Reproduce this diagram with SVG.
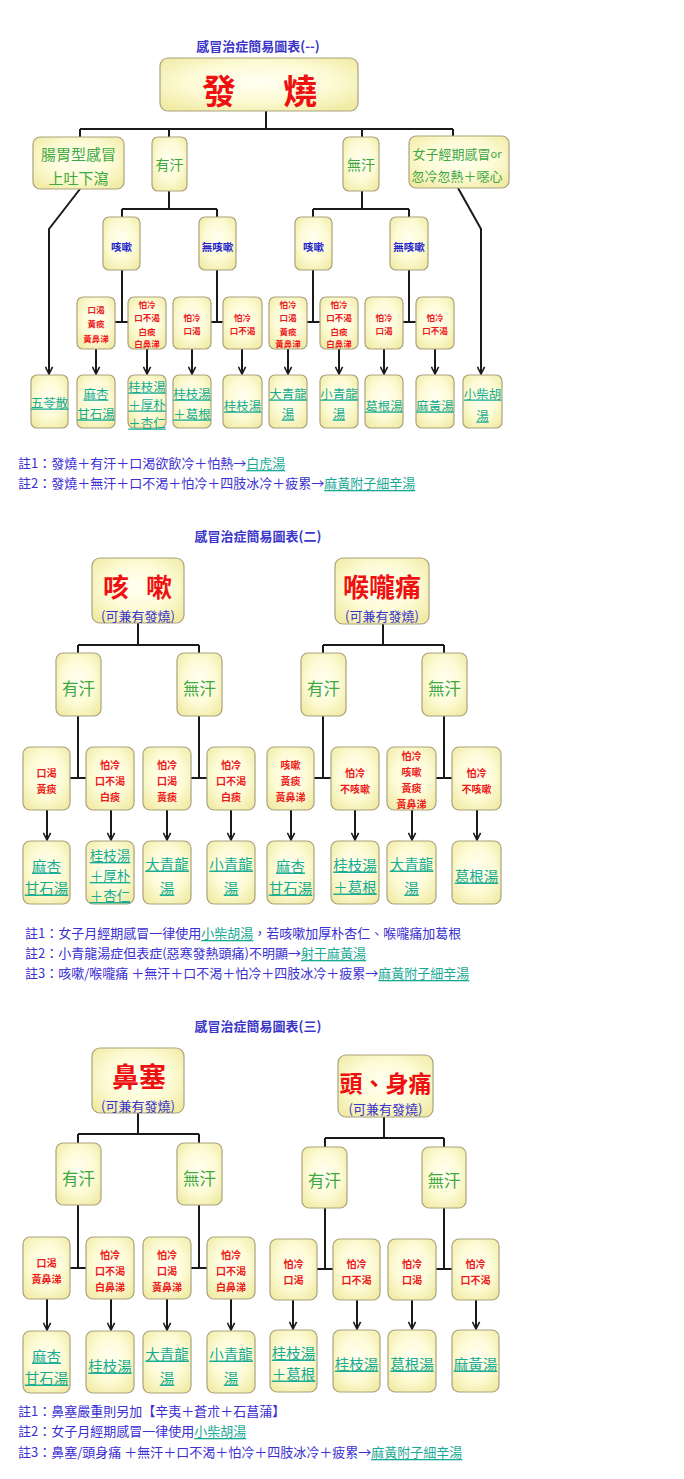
<svg xmlns="http://www.w3.org/2000/svg" width="684" height="1479" viewBox="0 0 684 1479">
<defs>
<radialGradient id="g" cx="50%" cy="45%" r="65%">
<stop offset="0" stop-color="#fffff2"/>
<stop offset="0.55" stop-color="#fdfbd6"/>
<stop offset="1" stop-color="#f1eba6"/>
</radialGradient>
<marker id="arr" viewBox="0 0 10 10" refX="9" refY="5" markerWidth="9" markerHeight="9" markerUnits="userSpaceOnUse" orient="auto">
<path d="M1,1 L9,5 L1,9" fill="none" stroke="#1a1a1a" stroke-width="1.8"/>
</marker>
<style>
.box{fill:url(#g);stroke:#aaa27e;stroke-width:1.2}
text{font-family:'Noto Sans CJK TC','Noto Sans CJK SC',sans-serif;text-anchor:middle;dominant-baseline:central}
.title{font-size:13px;fill:#3a35c8;font-weight:bold}
.big{fill:#ee1111;font-weight:bold}
.sub{fill:#3a35c8;font-size:13px}
.grn{fill:#3fa83f}
.blu{fill:#2323cc;font-weight:bold;font-size:10.5px}
.red{fill:#ee1a1a;font-weight:bold}
.r1{font-size:8.5px}
.r2{font-size:10px}
.med{fill:#17ab93;text-decoration:underline}
.m1{font-size:12.5px}
.m2{font-size:14.5px}
.m3{font-size:13.5px}
.note{font-size:13px;fill:#3b2fd2;text-anchor:start}
.lnk{fill:#1aa994;text-decoration:underline}
.c{fill:none;stroke:#1a1a1a;stroke-width:2}
.a{fill:none;stroke:#1a1a1a;stroke-width:2;marker-end:url(#arr)}
</style>
</defs>
<rect width="684" height="1479" fill="#ffffff"/>

<!-- ========== Section 1 ========== -->
<text class="title" x="258" y="45">感冒治症簡易圖表(--)</text>

<g id="connectors1">
<path class="c" d="M266,111 V129 M80,129 H453 M80,129 V137 M169,129 V137 M362,129 V137 M453,129 V136"/>
<path class="c" d="M169,191 V209 M122,209 H217 M122,209 V217 M217,209 V217"/>
<path class="c" d="M362,191 V209 M313,209 H409 M313,209 V217 M409,209 V217"/>
<path class="c" d="M122,270 V322 M115,322 H128 M217,270 V322 M211,322 H223 M313,270 V322 M307,322 H320 M409,270 V322 M403,322 H416"/>
<path class="a" d="M80,189 L49,229 V374"/>
<path class="a" d="M458,188 L481,229 V374"/>
<path class="a" d="M96,349 V374"/>
<path class="a" d="M147,349 V374"/>
<path class="a" d="M192,349 V374"/>
<path class="a" d="M242,349 V374"/>
<path class="a" d="M288,349 V374"/>
<path class="a" d="M339,349 V374"/>
<path class="a" d="M384,349 V374"/>
<path class="a" d="M435,349 V374"/>
</g>

<g id="s1-fever"><rect class="box" x="160" y="58" width="198" height="53" rx="8"/>
<text class="big" y="89" font-size="34"><tspan x="219">發</tspan><tspan x="300">燒</tspan></text></g>

<g id="s1-gut"><rect class="box" x="33" y="137" width="91" height="52" rx="7"/>
<text class="grn" x="78.5" y="153" font-size="15">腸胃型感冒</text><text class="grn" x="78.5" y="177" font-size="15">上吐下瀉</text></g>
<g id="s1-sweat"><rect class="box" x="152" y="137" width="35" height="54" rx="6"/>
<text class="grn" x="169.5" y="164" font-size="14">有汗</text></g>
<g id="s1-nosweat"><rect class="box" x="343" y="137" width="36" height="54" rx="6"/>
<text class="grn" x="361" y="164" font-size="14">無汗</text></g>
<g id="s1-female"><rect class="box" x="409" y="136" width="100" height="52" rx="7"/>
<text class="grn" x="457" y="153" font-size="13">女子經期感冒<tspan font-size="11">or</tspan></text><text class="grn" x="457" y="175" font-size="13">忽冷忽熱＋噁心</text></g>

<g id="s1-cough1"><rect class="box" x="103" y="217" width="37" height="53" rx="6"/><text class="blu" x="121.5" y="246">咳嗽</text></g>
<g id="s1-nocough1"><rect class="box" x="199" y="217" width="37" height="53" rx="6"/><text class="blu" x="217.5" y="246">無咳嗽</text></g>
<g id="s1-cough2"><rect class="box" x="295" y="217" width="37" height="53" rx="6"/><text class="blu" x="313.5" y="246">咳嗽</text></g>
<g id="s1-nocough2"><rect class="box" x="390" y="217" width="38" height="53" rx="6"/><text class="blu" x="409" y="246">無咳嗽</text></g>

<g id="s1-c1"><rect class="box" x="77" y="297" width="38" height="52" rx="6"/>
<text class="red r1" x="96" y="309">口渴</text><text class="red r1" x="96" y="323">黃痰</text><text class="red r1" x="96" y="338">黃鼻涕</text></g>
<g id="s1-c2"><rect class="box" x="128" y="297" width="38" height="52" rx="6"/>
<text class="red r1" x="147" y="304">怕冷</text><text class="red r1" x="147" y="317">口不渴</text><text class="red r1" x="147" y="330.5">白痰</text><text class="red r1" x="147" y="343">白鼻涕</text></g>
<g id="s1-c3"><rect class="box" x="173" y="297" width="38" height="52" rx="6"/>
<text class="red r1" x="192" y="317">怕冷</text><text class="red r1" x="192" y="330">口渴</text></g>
<g id="s1-c4"><rect class="box" x="223" y="297" width="39" height="52" rx="6"/>
<text class="red r1" x="242.5" y="317">怕冷</text><text class="red r1" x="242.5" y="330">口不渴</text></g>
<g id="s1-c5"><rect class="box" x="269" y="297" width="38" height="52" rx="6"/>
<text class="red r1" x="288" y="304">怕冷</text><text class="red r1" x="288" y="317">口渴</text><text class="red r1" x="288" y="330.5">黃痰</text><text class="red r1" x="288" y="343">黃鼻涕</text></g>
<g id="s1-c6"><rect class="box" x="320" y="297" width="38" height="52" rx="6"/>
<text class="red r1" x="339" y="304">怕冷</text><text class="red r1" x="339" y="317">口不渴</text><text class="red r1" x="339" y="330.5">白痰</text><text class="red r1" x="339" y="343">白鼻涕</text></g>
<g id="s1-c7"><rect class="box" x="365" y="297" width="38" height="52" rx="6"/>
<text class="red r1" x="384" y="317">怕冷</text><text class="red r1" x="384" y="330">口渴</text></g>
<g id="s1-c8"><rect class="box" x="416" y="297" width="38" height="52" rx="6"/>
<text class="red r1" x="435" y="317">怕冷</text><text class="red r1" x="435" y="330">口不渴</text></g>

<g id="s1-m0"><rect class="box" x="31" y="375" width="37" height="53" rx="6"/><text class="med m1" x="49.5" y="402">五苓散</text></g>
<g id="s1-m1"><rect class="box" x="77" y="375" width="38" height="53" rx="6"/><text class="med m1" x="96" y="393">麻杏</text><text class="med m1" x="96" y="413">甘石湯</text></g>
<g id="s1-m2"><rect class="box" x="128" y="375" width="38" height="53" rx="6"/><text class="med m1" x="147" y="386">桂枝湯</text><text class="med m1" x="147" y="404">＋厚朴</text><text class="med m1" x="147" y="422">＋杏仁</text></g>
<g id="s1-m3"><rect class="box" x="173" y="375" width="38" height="53" rx="6"/><text class="med m1" x="192" y="393">桂枝湯</text><text class="med m1" x="192" y="413">＋葛根</text></g>
<g id="s1-m4"><rect class="box" x="223" y="375" width="39" height="53" rx="6"/><text class="med m1" x="242.5" y="405">桂枝湯</text></g>
<g id="s1-m5"><rect class="box" x="269" y="375" width="38" height="53" rx="6"/><text class="med m1" x="288" y="393">大青龍</text><text class="med m1" x="288" y="413">湯</text></g>
<g id="s1-m6"><rect class="box" x="320" y="375" width="38" height="53" rx="6"/><text class="med m1" x="339" y="393">小青龍</text><text class="med m1" x="339" y="413">湯</text></g>
<g id="s1-m7"><rect class="box" x="365" y="375" width="38" height="53" rx="6"/><text class="med m1" x="384" y="405">葛根湯</text></g>
<g id="s1-m8"><rect class="box" x="416" y="375" width="38" height="53" rx="6"/><text class="med m1" x="435" y="405">麻黃湯</text></g>
<g id="s1-m9"><rect class="box" x="463" y="375" width="39" height="53" rx="6"/><text class="med m1" x="482.5" y="393">小柴胡</text><text class="med m1" x="482.5" y="415">湯</text></g>

<g id="s1-notes">
<text class="note" x="18" y="462">註1：發燒＋有汗＋口渴欲飲冷＋怕熱→<tspan class="lnk">白虎湯</tspan></text>
<text class="note" x="18" y="482">註2：發燒＋無汗＋口不渴＋怕冷＋四肢冰冷＋疲累→<tspan class="lnk">麻黃附子細辛湯</tspan></text>
</g>

<!-- ========== Section 2 ========== -->
<text class="title" x="258" y="535">感冒治症簡易圖表(二)</text>

<g id="connectors2">
<path class="c" d="M138,623 V645 M78,645 H199 M78,645 V653 M199,645 V653"/>
<path class="c" d="M383,624 V645 M323,645 H444 M323,645 V653 M444,645 V653"/>
<path class="c" d="M78,716 V778 M70,778 H86 M199,716 V778 M191,778 H207 M323,716 V778 M314,778 H331 M444,716 V778 M436,778 H452"/>
<path class="a" d="M47,810 V840"/>
<path class="a" d="M111,810 V840"/>
<path class="a" d="M167,810 V840"/>
<path class="a" d="M231,810 V840"/>
<path class="a" d="M291,810 V840"/>
<path class="a" d="M355,810 V840"/>
<path class="a" d="M412,810 V840"/>
<path class="a" d="M477,810 V840"/>
</g>

<g id="s2-cough"><rect class="box" x="92" y="558" width="92" height="65" rx="8"/>
<text class="big" y="585" font-size="26"><tspan x="116">咳</tspan><tspan x="159">嗽</tspan></text>
<text class="sub" x="138" y="615">(可兼有發燒)</text></g>
<g id="s2-throat"><rect class="box" x="335" y="558" width="94" height="66" rx="8"/>
<text class="big" x="382" y="585" font-size="26">喉嚨痛</text>
<text class="sub" x="382" y="615">(可兼有發燒)</text></g>

<g id="s2-sweat1"><rect class="box" x="56" y="653" width="45" height="63" rx="7"/><text class="grn" x="78.5" y="688" font-size="16.5">有汗</text></g>
<g id="s2-nosweat1"><rect class="box" x="177" y="653" width="45" height="63" rx="7"/><text class="grn" x="199.5" y="688" font-size="16.5">無汗</text></g>
<g id="s2-sweat2"><rect class="box" x="301" y="653" width="45" height="63" rx="7"/><text class="grn" x="323.5" y="688" font-size="16.5">有汗</text></g>
<g id="s2-nosweat2"><rect class="box" x="422" y="653" width="45" height="63" rx="7"/><text class="grn" x="444.5" y="688" font-size="16.5">無汗</text></g>

<g id="s2-c1"><rect class="box" x="23" y="747" width="47" height="63" rx="7"/>
<text class="red r2" x="46.5" y="772">口渴</text><text class="red r2" x="46.5" y="788">黃痰</text></g>
<g id="s2-c2"><rect class="box" x="86" y="747" width="48" height="63" rx="7"/>
<text class="red r2" x="110" y="764">怕冷</text><text class="red r2" x="110" y="780">口不渴</text><text class="red r2" x="110" y="796">白痰</text></g>
<g id="s2-c3"><rect class="box" x="143" y="747" width="48" height="63" rx="7"/>
<text class="red r2" x="167" y="764">怕冷</text><text class="red r2" x="167" y="780">口渴</text><text class="red r2" x="167" y="796">黃痰</text></g>
<g id="s2-c4"><rect class="box" x="207" y="747" width="48" height="63" rx="7"/>
<text class="red r2" x="231" y="764">怕冷</text><text class="red r2" x="231" y="780">口不渴</text><text class="red r2" x="231" y="796">白痰</text></g>
<g id="s2-c5"><rect class="box" x="267" y="747" width="47" height="63" rx="7"/>
<text class="red r2" x="290.5" y="764">咳嗽</text><text class="red r2" x="290.5" y="780">黃痰</text><text class="red r2" x="290.5" y="796">黃鼻涕</text></g>
<g id="s2-c6"><rect class="box" x="331" y="747" width="48" height="63" rx="7"/>
<text class="red r2" x="355" y="772">怕冷</text><text class="red r2" x="355" y="788">不咳嗽</text></g>
<g id="s2-c7"><rect class="box" x="387" y="747" width="49" height="63" rx="7"/>
<text class="red r2" x="411.5" y="755">怕冷</text><text class="red r2" x="411.5" y="771">咳嗽</text><text class="red r2" x="411.5" y="787">黃痰</text><text class="red r2" x="411.5" y="803">黃鼻涕</text></g>
<g id="s2-c8"><rect class="box" x="452" y="747" width="49" height="63" rx="7"/>
<text class="red r2" x="476.5" y="772">怕冷</text><text class="red r2" x="476.5" y="788">不咳嗽</text></g>

<g id="s2-m1"><rect class="box" x="23" y="841" width="47" height="63" rx="7"/><text class="med m2" x="46.5" y="865">麻杏</text><text class="med m2" x="46.5" y="887">甘石湯</text></g>
<g id="s2-m2"><rect class="box" x="86" y="841" width="48" height="63" rx="7"/><text class="med m3" x="110" y="855">桂枝湯</text><text class="med m3" x="110" y="875">＋厚朴</text><text class="med m3" x="110" y="895">＋杏仁</text></g>
<g id="s2-m3"><rect class="box" x="143" y="841" width="48" height="63" rx="7"/><text class="med m2" x="167" y="863">大青龍</text><text class="med m2" x="167" y="887">湯</text></g>
<g id="s2-m4"><rect class="box" x="207" y="841" width="48" height="63" rx="7"/><text class="med m2" x="231" y="863">小青龍</text><text class="med m2" x="231" y="887">湯</text></g>
<g id="s2-m5"><rect class="box" x="267" y="841" width="47" height="63" rx="7"/><text class="med m2" x="290.5" y="865">麻杏</text><text class="med m2" x="290.5" y="887">甘石湯</text></g>
<g id="s2-m6"><rect class="box" x="331" y="841" width="48" height="63" rx="7"/><text class="med m2" x="355" y="864">桂枝湯</text><text class="med m2" x="355" y="886">＋葛根</text></g>
<g id="s2-m7"><rect class="box" x="387" y="841" width="49" height="63" rx="7"/><text class="med m2" x="411.5" y="863">大青龍</text><text class="med m2" x="411.5" y="887">湯</text></g>
<g id="s2-m8"><rect class="box" x="452" y="841" width="49" height="63" rx="7"/><text class="med m2" x="476.5" y="875">葛根湯</text></g>

<g id="s2-notes">
<text class="note" x="25" y="932" font-size="13.4">註1：女子月經期感冒一律使用<tspan class="lnk">小柴胡湯</tspan>，若咳嗽加厚朴杏仁、喉嚨痛加葛根</text>
<text class="note" x="25" y="952" font-size="13.4">註2：小青龍湯症但表症(惡寒發熱頭痛)不明顯→<tspan class="lnk">射干麻黃湯</tspan></text>
<text class="note" x="25" y="972" font-size="13.4">註3：咳嗽/喉嚨痛 ＋無汗＋口不渴＋怕冷＋四肢冰冷＋疲累→<tspan class="lnk">麻黃附子細辛湯</tspan></text>
</g>

<!-- ========== Section 3 ========== -->
<text class="title" x="258" y="1025">感冒治症簡易圖表(三)</text>

<g id="connectors3">
<path class="c" d="M138,1113 V1134 M78,1134 H199 M78,1134 V1143 M199,1134 V1143"/>
<path class="c" d="M384,1117 V1138 M325,1138 H444 M325,1138 V1147 M444,1138 V1147"/>
<path class="c" d="M78,1205 V1268 M70,1268 H86 M199,1205 V1268 M191,1268 H207 M325,1208 V1269 M317,1269 H333 M444,1208 V1269 M436,1269 H452"/>
<path class="a" d="M47,1299 V1330"/>
<path class="a" d="M111,1299 V1330"/>
<path class="a" d="M167,1299 V1330"/>
<path class="a" d="M231,1299 V1330"/>
<path class="a" d="M293,1300 V1329"/>
<path class="a" d="M357,1300 V1329"/>
<path class="a" d="M412,1300 V1329"/>
<path class="a" d="M476,1300 V1329"/>
</g>

<g id="s3-nose"><rect class="box" x="92" y="1048" width="92" height="65" rx="8"/>
<text class="big" x="139" y="1075" font-size="27">鼻塞</text>
<text class="sub" x="138" y="1105">(可兼有發燒)</text></g>
<g id="s3-pain"><rect class="box" x="338" y="1055" width="95" height="62" rx="8"/>
<text class="big" x="385.5" y="1082" font-size="23">頭、身痛</text>
<text class="sub" x="385.5" y="1108">(可兼有發燒)</text></g>

<g id="s3-sweat1"><rect class="box" x="56" y="1143" width="45" height="62" rx="7"/><text class="grn" x="78.5" y="1178" font-size="16.5">有汗</text></g>
<g id="s3-nosweat1"><rect class="box" x="177" y="1143" width="45" height="62" rx="7"/><text class="grn" x="199.5" y="1178" font-size="16.5">無汗</text></g>
<g id="s3-sweat2"><rect class="box" x="302" y="1147" width="45" height="61" rx="7"/><text class="grn" x="324.5" y="1180" font-size="16.5">有汗</text></g>
<g id="s3-nosweat2"><rect class="box" x="422" y="1147" width="44" height="61" rx="7"/><text class="grn" x="444" y="1180" font-size="16.5">無汗</text></g>

<g id="s3-c1"><rect class="box" x="23" y="1237" width="47" height="62" rx="7"/>
<text class="red r2" x="46.5" y="1262">口渴</text><text class="red r2" x="46.5" y="1278">黃鼻涕</text></g>
<g id="s3-c2"><rect class="box" x="86" y="1237" width="48" height="62" rx="7"/>
<text class="red r2" x="110" y="1254">怕冷</text><text class="red r2" x="110" y="1270">口不渴</text><text class="red r2" x="110" y="1286">白鼻涕</text></g>
<g id="s3-c3"><rect class="box" x="143" y="1237" width="48" height="62" rx="7"/>
<text class="red r2" x="167" y="1254">怕冷</text><text class="red r2" x="167" y="1270">口渴</text><text class="red r2" x="167" y="1286">黃鼻涕</text></g>
<g id="s3-c4"><rect class="box" x="207" y="1237" width="48" height="62" rx="7"/>
<text class="red r2" x="231" y="1254">怕冷</text><text class="red r2" x="231" y="1270">口不渴</text><text class="red r2" x="231" y="1286">白鼻涕</text></g>
<g id="s3-c5"><rect class="box" x="270" y="1239" width="47" height="61" rx="7"/>
<text class="red r2" x="293.5" y="1263">怕冷</text><text class="red r2" x="293.5" y="1279">口渴</text></g>
<g id="s3-c6"><rect class="box" x="333" y="1239" width="47" height="61" rx="7"/>
<text class="red r2" x="356.5" y="1263">怕冷</text><text class="red r2" x="356.5" y="1279">口不渴</text></g>
<g id="s3-c7"><rect class="box" x="388" y="1239" width="48" height="61" rx="7"/>
<text class="red r2" x="412" y="1263">怕冷</text><text class="red r2" x="412" y="1279">口渴</text></g>
<g id="s3-c8"><rect class="box" x="452" y="1239" width="47" height="61" rx="7"/>
<text class="red r2" x="475.5" y="1263">怕冷</text><text class="red r2" x="475.5" y="1279">口不渴</text></g>

<g id="s3-m1"><rect class="box" x="23" y="1331" width="47" height="62" rx="7"/><text class="med m2" x="46.5" y="1355">麻杏</text><text class="med m2" x="46.5" y="1377">甘石湯</text></g>
<g id="s3-m2"><rect class="box" x="86" y="1331" width="48" height="62" rx="7"/><text class="med m2" x="110" y="1365">桂枝湯</text></g>
<g id="s3-m3"><rect class="box" x="143" y="1331" width="48" height="62" rx="7"/><text class="med m2" x="167" y="1353">大青龍</text><text class="med m2" x="167" y="1377">湯</text></g>
<g id="s3-m4"><rect class="box" x="207" y="1331" width="48" height="62" rx="7"/><text class="med m2" x="231" y="1353">小青龍</text><text class="med m2" x="231" y="1377">湯</text></g>
<g id="s3-m5"><rect class="box" x="270" y="1330" width="47" height="62" rx="7"/><text class="med m2" x="293.5" y="1352">桂枝湯</text><text class="med m2" x="293.5" y="1373">＋葛根</text></g>
<g id="s3-m6"><rect class="box" x="333" y="1330" width="47" height="62" rx="7"/><text class="med m2" x="356.5" y="1363">桂枝湯</text></g>
<g id="s3-m7"><rect class="box" x="388" y="1330" width="48" height="62" rx="7"/><text class="med m2" x="412" y="1363">葛根湯</text></g>
<g id="s3-m8"><rect class="box" x="452" y="1330" width="47" height="62" rx="7"/><text class="med m2" x="475.5" y="1363">麻黃湯</text></g>

<g id="s3-notes">
<text class="note" x="18" y="1410">註1：鼻塞嚴重則另加【辛夷＋蒼朮＋石菖蒲】</text>
<text class="note" x="18" y="1430">註2：女子月經期感冒一律使用<tspan class="lnk">小柴胡湯</tspan></text>
<text class="note" x="18" y="1451">註3：鼻塞/頭身痛 ＋無汗＋口不渴＋怕冷＋四肢冰冷＋疲累→<tspan class="lnk">麻黃附子細辛湯</tspan></text>
</g>
</svg>
